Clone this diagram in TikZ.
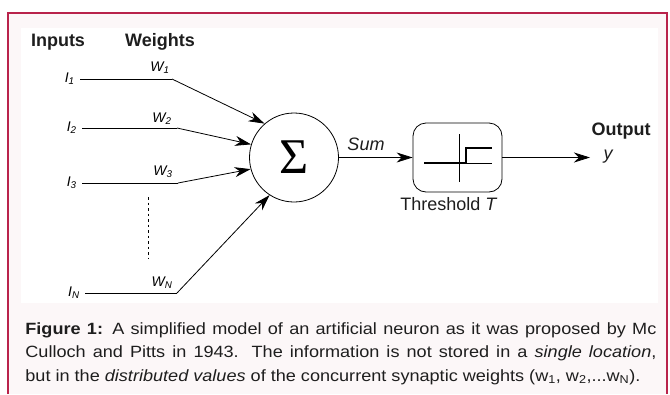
\documentclass[tikz,border=0pt]{standalone}
\usepackage{fontspec}
\setmainfont{Liberation Sans}
\newfontfamily\sigmafont{Liberation Serif}
\newfontfamily\didasfont[FakeStretch=1.11]{Liberation Sans}
\usetikzlibrary{arrows.meta}
\definecolor{bordo}{RGB}{185,35,75}
\definecolor{fondo}{RGB}{252,247,248}
\definecolor{testo}{RGB}{30,30,30}

\begin{document}
\begin{tikzpicture}[x=1pt, y=-1pt, line width=0.8pt]
	% Stili del modello del neurone
	\tikzset{titolo/.style={font=\fontsize{18}{18}\selectfont\bfseries, text=testo, inner sep=0pt},
		ingresso/.style={font=\fontsize{14}{14}\selectfont\itshape, anchor=east, inner xsep=5pt, inner ysep=0pt},
		peso/.style={font=\fontsize{14}{14}\selectfont\itshape, inner sep=0pt},
		freccia/.style={-{Stealth[length=16pt, width=10pt, inset=5pt]}},
		etichetta/.style={font=\fontsize{18}{18}\selectfont, text=testo, inner sep=0pt}}
	\useasboundingbox (0,0) rectangle (670,394);
	
	% Sfondo, riquadro bianco e bordo
	\fill[fondo] (8,13) rectangle (667,394);
	\fill[white] (21,28) rectangle (658,303);
	\draw[bordo, line width=1.5pt] (8,394) -- (8,13) -- (667,13) -- (667,394);
	
	% Intestazioni
	\node[titolo] (inputs) at (58,42) {Inputs};
	\node[titolo] (weights) at (160,42) {Weights};
	
	% Ingressi
	\node[ingresso] (i1) at (80,79) {I\textsubscript{1}};
	\node[ingresso] (i2) at (82,128) {I\textsubscript{2}};
	\node[ingresso] (i3) at (82,183) {I\textsubscript{3}};
	\node[ingresso] (in) at (85,293) {I\textsubscript{N}};
	
	% Punti dei pesi
	\coordinate (p1) at (172,79);
	\coordinate (p2) at (177,128);
	\coordinate (p3) at (178,183);
	\coordinate (pn) at (177,293);
	
	\node[peso] (w1) at (160,68) {W\textsubscript{1}};
	\node[peso] (w2) at (162,119) {W\textsubscript{2}};
	\node[peso] (w3) at (163,172) {W\textsubscript{3}};
	\node[peso] (wn) at (162,283) {W\textsubscript{N}};
	
	% Sommatore
	\node[circle, draw, minimum size=89pt, inner sep=0pt] (somma) at (294,157.5)
		{\sigmafont\fontsize{50}{50}\selectfont\char"03A3};
	
	\draw (i1) -- (p1);
	\draw (i2) -- (p2);
	\draw (i3) -- (p3);
	\draw (in) -- (pn);
	\draw[freccia] (p1) -- (somma.131);
	\draw[freccia] (p2) -- (somma.163);
	\draw[freccia] (p3) -- (somma.195);
	\draw[freccia] (pn) -- (somma.237);
	
	% Puntini tra I3 e IN
	\draw[dash pattern=on 2.5pt off 3pt] (148,197) -- (148,258);
	
	% Blocco di soglia
	\node[draw, rounded corners=13pt, minimum width=89pt, minimum height=69pt] (soglia) at (457.5,157.5) {};
	\draw[line width=0.6pt] (424,163) -- (492,163);
	\draw[line width=0.6pt] (459,134) -- (459,182);
	\draw[line width=1.6pt] (424,163) -- (466,163) -- (466,148) -- (492,148);
	\node[etichetta] (lsoglia) at (449,204) {Threshold \textit{T}};
	
	\draw[freccia] (somma) -- (soglia);
	\node[etichetta, font=\fontsize{18}{18}\selectfont\itshape] (lsomma) at (366,144) {Sum};
	
	% Uscita
	\coordinate (uscita) at (590,157.5);
	\draw[freccia] (soglia) -- (uscita);
	\node[titolo] (output) at (621,131) {Output};
	\node[etichetta, font=\fontsize{18}{18}\selectfont\itshape] (y) at (608,157) {y};
	
	% Didascalia
	\node[anchor=north west, inner sep=0pt, text width=631pt, align=justify, text=testo,
		font=\didasfont\fontsize{16.3}{23.5}\selectfont] (didas) at (25,322)
		{\parfillskip=0pt \textbf{Figure 1:} A simplified model of an artificial neuron as it was proposed by Mc\linebreak
		Culloch and Pitts in 1943. The information is not stored in a \textit{single location},\linebreak
		but in the \textit{distributed values} of the concurrent synaptic weights (w\textsubscript{1}, w\textsubscript{2},...w\textsubscript{N}).};
\end{tikzpicture}
\end{document}
